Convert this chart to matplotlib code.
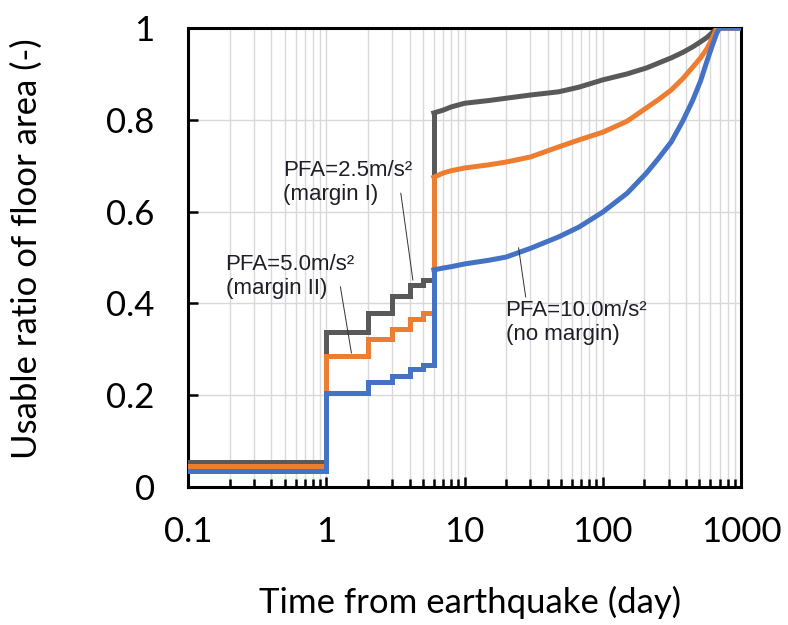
import matplotlib
matplotlib.use("Agg")
import matplotlib.pyplot as plt
from matplotlib.ticker import LogLocator, FixedLocator, NullFormatter

# ---- data ----
step_days = [0.1, 1, 2, 3, 4, 5, 6]
gray_step = [0.055, 0.337, 0.380, 0.417, 0.439, 0.452, 0.815]
orange_step = [0.045, 0.285, 0.322, 0.345, 0.365, 0.380, 0.675]
blue_step = [0.035, 0.204, 0.228, 0.242, 0.256, 0.265, 0.473]

curve_days = [6, 7, 8, 10, 15, 20, 30, 48, 67, 100, 150, 207, 250, 313, 380, 448, 510, 570, 620, 670, 700, 1000]
gray_curve = [0.815, 0.821, 0.828, 0.836, 0.842, 0.847, 0.854, 0.861, 0.871, 0.887, 0.900, 0.913, 0.923,
              0.935, 0.947, 0.959, 0.970, 0.980, 0.990, 1.0, 1.0, 1.0]
orange_curve = [0.675, 0.684, 0.689, 0.695, 0.702, 0.708, 0.719, 0.741, 0.756, 0.773, 0.797, 0.826, 0.843,
                0.865, 0.890, 0.915, 0.935, 0.956, 0.978, 1.0, 1.0, 1.0]
blue_curve = [0.473, 0.477, 0.480, 0.486, 0.494, 0.501, 0.520, 0.545, 0.566, 0.599, 0.640, 0.684, 0.714,
              0.752, 0.798, 0.843, 0.885, 0.930, 0.962, 0.990, 1.0, 1.0]

x_ticks = [0.1, 1, 10, 100, 1000]
x_tick_labels = ["0.1", "1", "10", "100", "1000"]
y_ticks = [0, 0.2, 0.4, 0.6, 0.8, 1.0]
y_tick_labels = ["0", "0.2", "0.4", "0.6", "0.8", "1"]

labels = ["PFA=2.5m/s\u00b2\n(margin I)", "PFA=5.0m/s\u00b2\n(margin II)", "PFA=10.0m/s\u00b2\n(no margin)"]

colors = {"gray": "#595959", "orange": "#ED7D31", "blue": "#4472C4"}

fig = plt.figure(figsize=(7.88, 6.25), dpi=100)
ax = fig.add_axes([0.2386, 0.2208, 0.7018, 0.7344])

lw = 3.6
series = [(gray_step, gray_curve, colors["gray"]),
          (orange_step, orange_curve, colors["orange"]),
          (blue_step, blue_curve, colors["blue"])]
for st, cv, c in series:
    ax.plot(step_days, st, drawstyle="steps-post", color=c, lw=lw, solid_joinstyle="miter", zorder=3)
    ax.plot(curve_days, cv, color=c, lw=lw, zorder=3)

ax.set_xscale("log")
ax.set_xlim(0.1, 1000)
ax.set_ylim(0, 1)
ax.xaxis.set_major_locator(FixedLocator(x_ticks))
ax.set_xticklabels(x_tick_labels)
ax.xaxis.set_minor_locator(LogLocator(base=10, subs=[2, 3, 4, 5, 6, 7, 8, 9], numticks=20))
ax.xaxis.set_minor_formatter(NullFormatter())
ax.set_yticks(y_ticks)
ax.set_yticklabels(y_tick_labels)

ax.grid(which="major", axis="both", color="#d9d9d9", lw=1.0, zorder=0)
ax.grid(which="minor", axis="x", color="#d9d9d9", lw=1.0, zorder=0)
ax.set_axisbelow(True)

for s in ax.spines.values():
    s.set_linewidth(2.2)
    s.set_color("black")

tick_font = "Lato"
ax.tick_params(axis="both", which="major", direction="in", length=7, width=1.8,
               labelsize=25, colors="black")
ax.tick_params(axis="x", which="minor", direction="in", length=6, width=1.8)
ax.tick_params(axis="y", which="both", right=False, pad=24)
ax.tick_params(axis="x", which="both", top=False, pad=21)
for lab in ax.get_xticklabels() + ax.get_yticklabels():
    lab.set_fontfamily(tick_font)

ax.set_xlabel("Time from earthquake (day)", fontsize=25, family=tick_font)
ax.set_ylabel("Usable ratio of floor area (-)", fontsize=25, family=tick_font)
ax.xaxis.set_label_coords(0.51, -0.215)
ax.yaxis.set_label_coords(-0.262, 0.52)

txt_kw = dict(fontsize=16, family="Liberation Sans", color="#1e1e28", linespacing=1.2, va="top", ha="left")
ax.text(0.486, 0.712, labels[0], **txt_kw)
ax.text(0.187, 0.508, labels[1], **txt_kw)
ax.text(19.8, 0.407, labels[2], **txt_kw)

lead_kw = dict(color="#333333", lw=0.7, zorder=4)
ax.plot([3.46, 4.23], [0.640, 0.451], **lead_kw)
ax.plot([1.265, 1.52], [0.436, 0.292], **lead_kw)
ax.plot([27.7, 24.6], [0.414, 0.521], **lead_kw)

fig.savefig("out.png", dpi=100)
